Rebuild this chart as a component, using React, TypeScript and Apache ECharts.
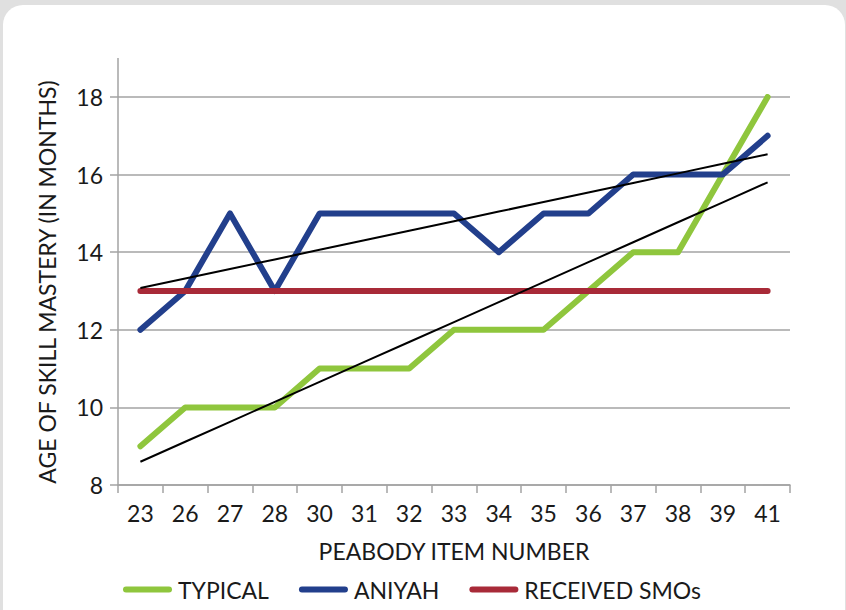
import React, { useEffect, useRef } from 'react';
import * as echarts from 'echarts';

const categories = ['23', '26', '27', '28', '30', '31', '32', '33', '34', '35', '36', '37', '38', '39', '41'];
const typical = [9, 10, 10, 10, 11, 11, 11, 12, 12, 12, 13, 14, 14, 16, 18];
const aniyah = [12, 13, 15, 13, 15, 15, 15, 15, 14, 15, 15, 16, 16, 16, 17];
const receivedSMOs = [13, 13, 13, 13, 13, 13, 13, 13, 13, 13, 13, 13, 13, 13, 13];
const yMin = 8;
const yMax = 18;
const yInterval = 2;

// Linear (least-squares) trendline computed from the series values, like the spreadsheet's trendline
function linearTrend(values: number[]): number[] {
  const n = values.length;
  const mx = (n - 1) / 2;
  const my = values.reduce((a, b) => a + b, 0) / n;
  let sxy = 0;
  let sxx = 0;
  values.forEach((v, i) => {
    sxy += (i - mx) * (v - my);
    sxx += (i - mx) * (i - mx);
  });
  const slope = sxy / sxx;
  return values.map((_, i) => +(my + slope * (i - mx)).toFixed(4));
}

const FONT = 'Lato';
const FS = 23;
const TEXT = '#1a1a1a';
const AXIS = '#a3a3a3';
const GREEN = '#8fc63d';
const BLUE = '#223f8c';
const RED = '#a82a38';
const ICON = 'path://M3,0 L46,0 A3,3 0 0 1 46,6 L3,6 A3,3 0 0 1 3,0 Z';

export default function App() {
  const ref = useRef<HTMLDivElement>(null);

  useEffect(() => {
    if (!ref.current) return;
    const chart = echarts.init(ref.current, undefined, { renderer: 'svg' });
    const lineSeries = (name: string, data: number[], color: string, z: number) => ({
      name,
      type: 'line',
      data,
      symbol: 'none',
      z,
      lineStyle: { color, width: 6, cap: 'round', join: 'round' },
      itemStyle: { color },
    });
    const trendSeries = (name: string, data: number[]) => ({
      name,
      type: 'line',
      data,
      symbol: 'none',
      silent: true,
      z: 5,
      lineStyle: { color: '#000000', width: 2 },
      itemStyle: { color: '#000000' },
    });
    chart.setOption({
      animation: false,
      textStyle: { fontFamily: FONT, color: TEXT },
      grid: { left: 118, right: 56, top: 97, bottom: 125, containLabel: false },
      legend: {
        data: [
          { name: 'TYPICAL', icon: ICON },
          { name: 'ANIYAH', icon: ICON },
          { name: 'RECEIVED SMOs', icon: ICON },
        ],
        left: 118,
        top: 573,
        itemWidth: 49,
        itemHeight: 6,
        itemGap: 30,
        textStyle: { fontFamily: FONT, fontSize: FS, color: TEXT, padding: [0, 0, 0, 1] },
      },
      xAxis: {
        type: 'category',
        data: categories,
        boundaryGap: true,
        name: 'PEABODY ITEM NUMBER',
        nameLocation: 'middle',
        nameGap: 54,
        nameTextStyle: { fontFamily: FONT, fontSize: FS, color: TEXT },
        axisLine: { lineStyle: { color: AXIS, width: 1.5 } },
        axisTick: { show: true, length: 8, alignWithLabel: false, lineStyle: { color: AXIS, width: 1.5 } },
        axisLabel: { fontFamily: FONT, fontSize: FS, color: TEXT, margin: 16 },
        splitLine: { show: false },
      },
      yAxis: {
        type: 'value',
        min: yMin,
        max: yMax,
        interval: yInterval,
        axisLine: { show: true, lineStyle: { color: AXIS, width: 1.5 } },
        axisTick: { show: true, length: 8, lineStyle: { color: AXIS, width: 1.5 } },
        axisLabel: { fontFamily: FONT, fontSize: FS, color: TEXT, margin: 15 },
        splitLine: { show: true, lineStyle: { color: AXIS, width: 1.5 } },
      },
      graphic: [
        {
          type: 'line',
          shape: { x1: 118, y1: 58, x2: 118, y2: 97 },
          style: { stroke: AXIS, lineWidth: 1.5 },
          silent: true,
        },
        {
          type: 'text',
          x: 47,
          y: 282,
          rotation: Math.PI / 2,
          style: {
            text: 'AGE OF SKILL MASTERY (IN MONTHS)',
            fontFamily: FONT,
            fontSize: FS,
            fill: TEXT,
            align: 'center',
            verticalAlign: 'middle',
          },
          silent: true,
        },
      ],
      series: [
        lineSeries('TYPICAL', typical, GREEN, 2),
        lineSeries('ANIYAH', aniyah, BLUE, 3),
        lineSeries('RECEIVED SMOs', receivedSMOs, RED, 4),
        trendSeries('Typical trend', linearTrend(typical)),
        trendSeries('Aniyah trend', linearTrend(aniyah)),
      ],
    });
    return () => chart.dispose();
  }, []);

  return (
    <div
      style={{
        position: 'fixed',
        left: 0,
        top: 0,
        width: 846,
        height: 610,
        background: '#e0e0e0',
        overflow: 'hidden',
      }}
    >
      <div
        style={{
          position: 'absolute',
          left: 3,
          top: 5,
          width: 842,
          height: 640,
          background: '#ffffff',
          borderRadius: 20,
        }}
      />
      <div ref={ref} style={{ position: 'absolute', left: 0, top: 0, width: 846, height: 610 }} />
    </div>
  );
}
